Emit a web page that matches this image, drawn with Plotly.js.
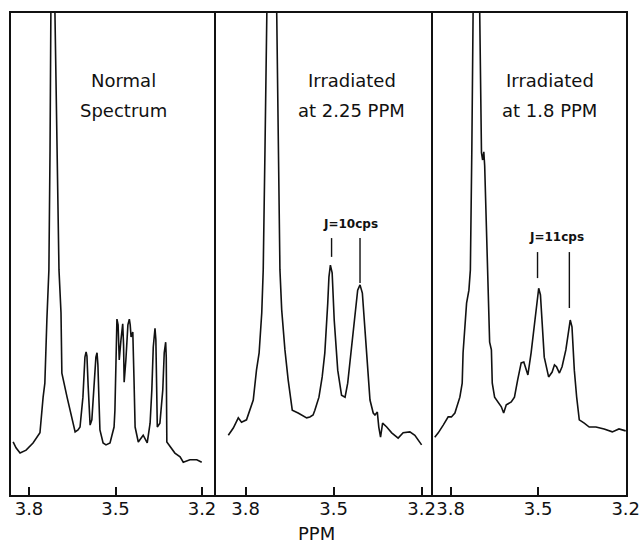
<!DOCTYPE html>
<html>
<head>
<meta charset="utf-8">
<script src="https://cdn.plot.ly/plotly-3.0.1.min.js"></script>
<style>html,body{margin:0;padding:0;background:#fff;}#chart{width:642px;height:543px;}</style>
</head>
<body>
<div id="chart"></div>
<script>
// Panel 1: Normal spectrum (ppm, relative intensity; 100 = top of frame)
const ppm1 = [3.855,3.845,3.831,3.810,3.786,3.762,3.751,3.745,3.738,3.731,3.727,3.724,3.717,3.710,3.703,3.696,3.689,3.686,3.668,3.651,3.640,3.630,3.623,3.613,3.606,3.602,3.599,3.595,3.588,3.582,3.575,3.568,3.564,3.561,3.557,3.554,3.543,3.533,3.519,3.505,3.502,3.498,3.495,3.491,3.487,3.481,3.475,3.472,3.470,3.464,3.457,3.452,3.449,3.446,3.440,3.436,3.432,3.421,3.404,3.390,3.380,3.374,3.369,3.363,3.360,3.355,3.346,3.336,3.331,3.326,3.324,3.322,3.311,3.294,3.276,3.265,3.242,3.218,3.201];
const int1 = [11.0,9.8,8.7,9.3,10.8,12.9,20.3,23.2,36.3,46.7,71.6,100,170,100,71.6,46.7,37.8,25.3,20.3,15.6,13.1,13.5,14.1,20.3,28.6,29.7,28.8,22.8,14.5,15.6,22.4,28.6,29.5,27.0,19.1,13.5,10.8,10.4,10.8,14.1,17.6,34.2,36.5,35.3,28.0,32.2,35.5,31.1,23.4,28.0,35.3,36.5,35.3,32.8,33.8,24.5,14.1,11.0,12.4,10.8,14.9,21.8,30.7,34.6,32.2,14.1,14.9,21.8,29.5,31.7,28.6,11.0,10.0,8.7,7.9,6.8,7.3,7.3,6.8];

// Panel 2: Irradiated at 2.25 PPM
const ppm2 = [3.859,3.842,3.825,3.814,3.797,3.785,3.774,3.763,3.754,3.745,3.740,3.734,3.728,3.712,3.694,3.688,3.683,3.677,3.666,3.655,3.641,3.621,3.592,3.581,3.570,3.564,3.550,3.539,3.530,3.520,3.516,3.511,3.505,3.498,3.486,3.473,3.461,3.452,3.439,3.427,3.418,3.410,3.402,3.393,3.384,3.376,3.365,3.359,3.351,3.346,3.340,3.333,3.319,3.302,3.280,3.263,3.240,3.223,3.200];
const int2 = [12.4,13.9,16.0,15.1,15.6,17.6,19.7,25.9,29.5,37.8,46.7,71.6,100,170,100,71.6,46.7,38.4,30.1,23.9,17.6,17.0,16.0,16.2,16.6,17.6,20.3,24.5,29.5,39.8,45.2,47.7,46.1,36.3,25.9,20.7,20.3,23.2,30.7,38.4,42.5,43.6,41.9,34.2,27.4,19.7,17.0,16.6,17.2,14.1,12.0,14.9,14.1,12.9,11.8,12.9,13.1,12.4,10.4];

// Panel 3: Irradiated at 1.8 PPM
const ppm3 = [3.854,3.842,3.825,3.808,3.797,3.785,3.768,3.760,3.757,3.751,3.745,3.737,3.732,3.727,3.723,3.712,3.700,3.694,3.690,3.686,3.683,3.672,3.666,3.660,3.657,3.649,3.638,3.626,3.618,3.609,3.592,3.581,3.570,3.558,3.549,3.535,3.524,3.516,3.507,3.498,3.492,3.484,3.479,3.464,3.452,3.444,3.437,3.427,3.418,3.405,3.396,3.390,3.384,3.376,3.368,3.359,3.342,3.325,3.302,3.274,3.246,3.223,3.200];
const int3 = [12.0,12.9,14.5,16.2,16.2,17.0,20.3,23.2,29.5,34.9,39.8,42.5,46.7,71.6,100,170,100,71.0,69.5,71.2,68.3,46.7,31.7,30.1,23.2,20.3,19.3,18.3,17.0,18.7,19.3,20.3,23.9,27.4,27.6,24.9,29.5,33.6,38.4,42.9,41.5,32.8,28.6,24.5,25.5,27.0,26.6,25.3,26.6,30.1,34.2,36.3,34.9,25.9,20.3,15.6,14.9,14.1,14.1,13.7,13.1,13.7,13.3];

const tickVals = [3.8, 3.5, 3.2];
const tickText = ["3.8", "3.5", "3.2"];
const panelTitles = [["Normal", "Spectrum"], ["Irradiated", "at 2.25 PPM"], ["Irradiated", "at 1.8 PPM"]];
const titleX = [3.474, 3.438, 3.461];
const titleY = [86.1, 79.7];
const xRanges = [[3.8624, 3.1584], [3.901, 3.168], [3.860, 3.199]];
// Coupling marks: doublet line positions (ppm), top / bottom intensities, label
const jMarks = [
  {panel: 2, a: 3.507, b: 3.410, top: 53.3, botA: 49.4, botB: 44.0, label: "J=10cps", lx: 3.444, ly: 56.2},
  {panel: 3, a: 3.502, b: 3.393, top: 50.4, botA: 45.0, botB: 38.8, label: "J=11cps", lx: 3.436, ly: 53.5}
];

const W = 642, H = 543;
const domains = [[11/W, 214/W], [216/W, 431/W], [433/W, 626/W]];
const yDom = [(H-495)/H, (H-13)/H];

const lineStyle = {color: '#111', width: 1.6};
const data = [
  {x: ppm1, y: int1, xaxis: 'x', yaxis: 'y', mode: 'lines', line: lineStyle, hoverinfo: 'skip'},
  {x: ppm2, y: int2, xaxis: 'x2', yaxis: 'y2', mode: 'lines', line: lineStyle, hoverinfo: 'skip'},
  {x: ppm3, y: int3, xaxis: 'x3', yaxis: 'y3', mode: 'lines', line: lineStyle, hoverinfo: 'skip'}
];

const layout = {
  width: W, height: H,
  margin: {l: 0, r: 0, t: 0, b: 0},
  paper_bgcolor: '#fff', plot_bgcolor: '#fff',
  showlegend: false,
  font: {family: 'DejaVu Sans, sans-serif', color: '#111'},
  annotations: [],
  shapes: []
};

for (let i = 0; i < 3; i++) {
  const s = i === 0 ? '' : String(i + 1);
  layout['xaxis' + s] = {
    domain: domains[i], range: xRanges[i], anchor: 'y' + s,
    showgrid: false, zeroline: false,
    showline: true, mirror: true, linecolor: '#111', linewidth: 2,
    ticks: 'inside', ticklen: 8, tickwidth: 2, tickcolor: '#111',
    tickmode: 'array', tickvals: tickVals, ticktext: tickText,
    ticklabelstandoff: -4,
    tickfont: {size: 18, color: '#111', family: 'DejaVu Sans, sans-serif'}
  };
  layout['yaxis' + s] = {
    domain: yDom, range: [0, 100], anchor: 'x' + s,
    showgrid: false, zeroline: false, showticklabels: false, ticks: '',
    showline: true, mirror: true, linecolor: '#111', linewidth: 2
  };
  panelTitles[i].forEach((t, k) => {
    layout.annotations.push({
      xref: 'x' + s, yref: 'y' + s, x: titleX[i], y: titleY[k], text: t,
      showarrow: false, xanchor: 'center', yanchor: 'middle',
      font: {size: 18, color: '#111', family: 'DejaVu Sans, sans-serif'}
    });
  });
}

jMarks.forEach(j => {
  const s = String(j.panel);
  layout.shapes.push({type: 'line', xref: 'x' + s, yref: 'y' + s, x0: j.a, x1: j.a, y0: j.top, y1: j.botA, line: {color: '#111', width: 1.4}});
  layout.shapes.push({type: 'line', xref: 'x' + s, yref: 'y' + s, x0: j.b, x1: j.b, y0: j.top, y1: j.botB, line: {color: '#111', width: 1.4}});
  layout.annotations.push({
    xref: 'x' + s, yref: 'y' + s, x: j.lx, y: j.ly, text: '<b>' + j.label + '</b>',
    showarrow: false, xanchor: 'center', yanchor: 'middle',
    font: {size: 12, color: '#111', family: 'DejaVu Sans, sans-serif'}
  });
});

layout.annotations.push({
  xref: 'paper', yref: 'paper', x: 316/W, y: (H-533)/H, text: 'PPM',
  showarrow: false, xanchor: 'center', yanchor: 'middle',
  font: {size: 18, color: '#111', family: 'DejaVu Sans, sans-serif'}
});

Plotly.newPlot('chart', data, layout, {staticPlot: true, displayModeBar: false});
</script>
</body>
</html>
